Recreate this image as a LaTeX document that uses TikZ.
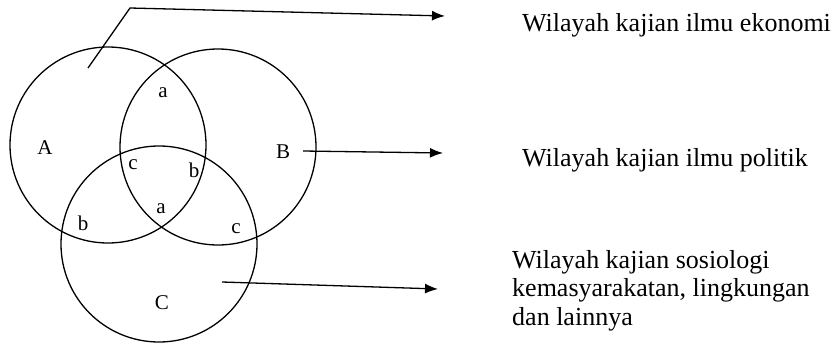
\documentclass[tikz,border=0pt]{standalone}
\usepackage{fontspec}
\setmainfont{Liberation Serif}
\usetikzlibrary{arrows.meta}
\begin{document}
\begin{tikzpicture}[x=1pt,y=-1pt,
  ring/.style={draw, line width=1.3pt, circle, inner sep=0pt},
  lbl/.style={font=\fontsize{21}{21}\selectfont, inner sep=0pt},
  desc/.style={font=\fontsize{26}{28.5}\selectfont, inner sep=0pt, anchor=base west, align=left},
  conn/.style={line width=1.3pt, -{Latex[length=13pt,width=10pt]}}]
\useasboundingbox (0,0) rectangle (835,345);
\node[ring, minimum size=196pt] (circA) at (108,145) {};
\node[ring, minimum size=196pt] (circB) at (218,147) {};
\node[ring, minimum size=196pt] (circC) at (159,244) {};
\node[lbl] (lA) at (45,148) {A};
\node[lbl] (lB) at (283,152) {B};
\node[lbl] (lC) at (162,303) {C};
\node[lbl] (a1) at (163,93) {a};
\node[lbl] (c1) at (133,165) {c};
\node[lbl] (b1) at (194,170) {b};
\node[lbl] (a2) at (161,209) {a};
\node[lbl] (b2) at (83,223) {b};
\node[lbl] (c2) at (236,229) {c};
\node[desc] (t1) at (522,32) {Wilayah kajian ilmu ekonomi};
\node[desc] (t2) at (522,166) {Wilayah kajian ilmu politik};
\node[desc] (t3) at (512,325) {Wilayah kajian sosiologi\\kemasyarakatan, lingkungan\\dan lainnya};
\coordinate (s1) at (88,68);
\coordinate (k1) at (130,8);
\coordinate (e1) at (445,16);
\coordinate (s2) at (303,151);
\coordinate (e2) at (443,153);
\coordinate (s3) at (222,282);
\coordinate (e3) at (438,289);
\draw[conn] (s1) -- (k1) -- (e1);
\draw[conn] (s2) -- (e2);
\draw[conn] (s3) -- (e3);
\end{tikzpicture}
\end{document}
